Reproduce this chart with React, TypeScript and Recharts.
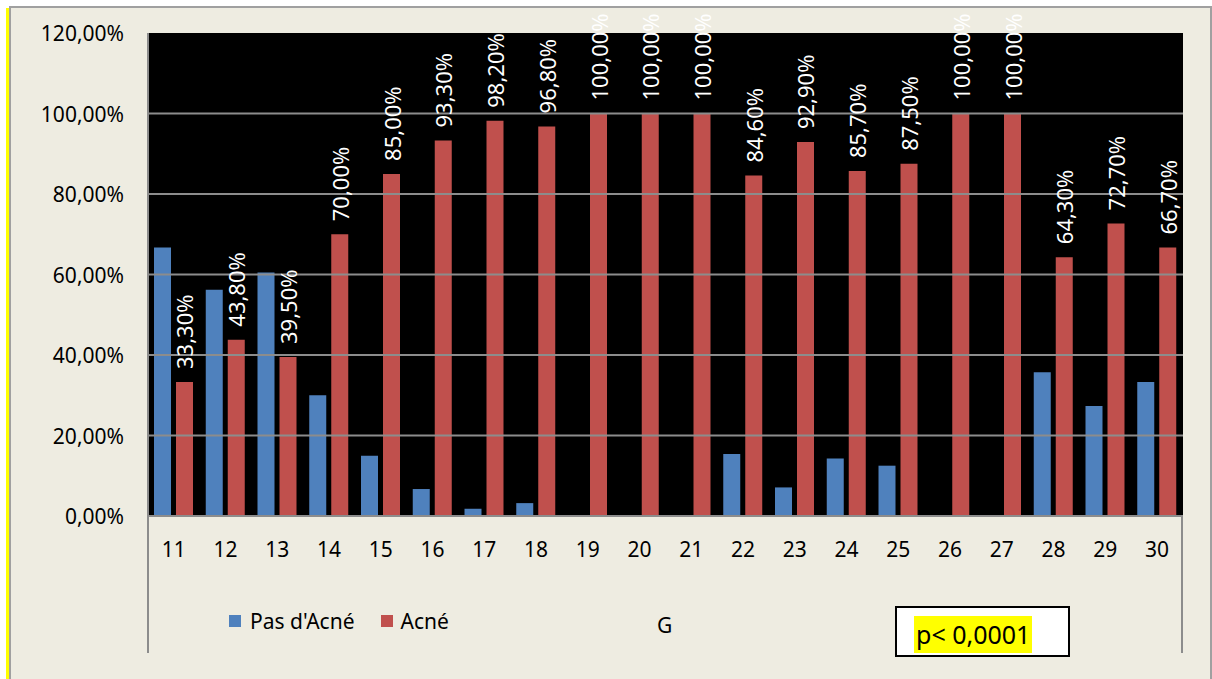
import { BarChart, Bar, XAxis, YAxis, CartesianGrid, Legend, LabelList, ReferenceLine } from "recharts";

// Age groups (G) and share of pupils per group, in %
const categories = ["11", "12", "13", "14", "15", "16", "17", "18", "19", "20", "21", "22", "23", "24", "25", "26", "27", "28", "29", "30"];
const pasAcne = [66.7, 56.2, 60.5, 30.0, 15.0, 6.7, 1.8, 3.2, 0, 0, 0, 15.4, 7.1, 14.3, 12.5, 0, 0, 35.7, 27.3, 33.3];
const acne = [33.3, 43.8, 39.5, 70.0, 85.0, 93.3, 98.2, 96.8, 100, 100, 100, 84.6, 92.9, 85.7, 87.5, 100, 100, 64.3, 72.7, 66.7];
const yTicks = [0, 20, 40, 60, 80, 100, 120];
// grid lines are drawn on every tick except the top one
const gridTicks = [20, 40, 60, 80, 100];

const data = categories.map((g, i) => ({ g, pas: pasAcne[i], acne: acne[i] }));

const FONT = "'Noto Sans', sans-serif";
const BLUE = "#4F81BD";
const RED = "#C0504D";
const BG = "#EEECE1";
const LINE = "#8C8C8C";

const pct = (v: number) => v.toFixed(2).replace(".", ",") + "%";

const YTick = (props: any) => {
  const { y, payload } = props;
  return (
    <text x={124} y={y} textAnchor="end" dominantBaseline="central" fontFamily={FONT} fontSize={21} fill="#000">
      {pct(payload.value)}
    </text>
  );
};

const XTick = (props: any) => {
  const { x, y, payload } = props;
  return (
    <text x={x} y={y + 25} textAnchor="middle" dominantBaseline="central" fontFamily={FONT} fontSize={21} fill="#000">
      {payload.value}
    </text>
  );
};

const BarValue = (props: any) => {
  const { x, y, width, value } = props;
  const cx = x + width / 2;
  const ty = y - 13;
  return (
    <text
      x={cx}
      y={ty}
      transform={`rotate(-90 ${cx} ${ty})`}
      textAnchor="start"
      dominantBaseline="central"
      fontFamily={FONT}
      fontSize={22}
      fill="#fff"
    >
      {pct(value)}
    </text>
  );
};

const LegendContent = () => (
  <div style={{ display: "flex", alignItems: "center", fontFamily: FONT, fontSize: 21, color: "#000" }}>
    <span style={{ width: 12, height: 12, background: BLUE, marginRight: 9 }} />
    <span style={{ marginRight: 26 }}>Pas d'Acné</span>
    <span style={{ width: 12, height: 12, background: RED, marginRight: 8 }} />
    <span>Acné</span>
  </div>
);

export default function App() {
  return (
    <div style={{ position: "absolute", left: 0, top: 0, width: 1212, height: 679, background: "#fff", overflow: "hidden" }}>
      {/* frame */}
      <div style={{ position: "absolute", left: 9, top: 6, width: 1199, height: 673, background: BG, borderTop: "2px solid #A0A0A0", borderLeft: "2px solid #A0A0A0", borderRight: "2px solid #A0A0A0" }} />
      <div style={{ position: "absolute", left: 6, top: 8, width: 3, height: 671, background: "#FFFF00" }} />

      <div style={{ position: "absolute", left: 0, top: 0 }}>
        <BarChart width={1212} height={679} data={data} margin={{ top: 33, right: 29, left: 0, bottom: 0 }} barSize={17} barGap={5}>
          <CartesianGrid vertical={false} horizontal={false} fill="#000" />
          <XAxis dataKey="g" height={163} axisLine={{ stroke: LINE, strokeWidth: 2 }} tickLine={false} tick={<XTick />} interval={0} />
          <YAxis width={148} domain={[0, 120]} ticks={yTicks} axisLine={{ stroke: LINE, strokeWidth: 2 }} tickLine={false} tick={<YTick />} />
          {gridTicks.map((v) => (
            <ReferenceLine key={v} y={v} stroke={LINE} strokeWidth={2} />
          ))}
          <Legend
            layout="horizontal"
            verticalAlign="middle"
            align="center"
            content={<LegendContent />}
            wrapperStyle={{ left: 229, top: 607, bottom: "auto", width: "auto" }}
          />
          <Bar dataKey="pas" name="Pas d'Acné" fill={BLUE} isAnimationActive={false} />
          <Bar dataKey="acne" name="Acné" fill={RED} isAnimationActive={false}>
            <LabelList dataKey="acne" content={<BarValue />} />
          </Bar>
        </BarChart>
      </div>

      {/* category axis box below the plot */}
      <div style={{ position: "absolute", left: 147, top: 516, width: 2, height: 137, background: LINE }} />
      <div style={{ position: "absolute", left: 1181, top: 516, width: 2, height: 137, background: LINE }} />
      <div style={{ position: "absolute", left: 657, top: 611, fontFamily: FONT, fontSize: 21, color: "#000" }}>G</div>

      {/* significance box */}
      <div style={{ position: "absolute", left: 895, top: 606, width: 171, height: 47, background: "#fff", border: "2px solid #000" }}>
        <span style={{ position: "absolute", left: 17, top: 8, background: "#FFFF00", fontFamily: FONT, fontSize: 25, lineHeight: "37px", color: "#000", padding: "0 2px" }}>
          p&lt; 0,0001
        </span>
      </div>
    </div>
  );
}
